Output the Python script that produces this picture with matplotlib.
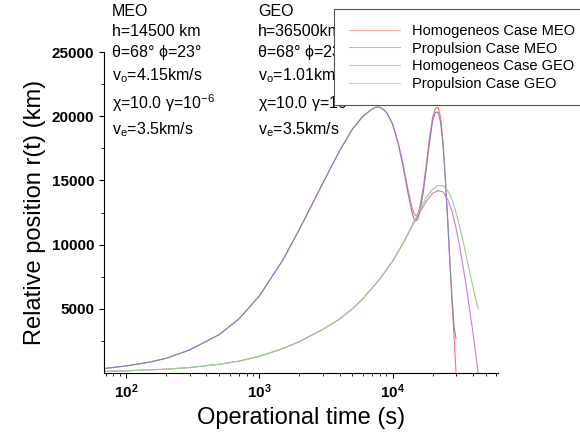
import matplotlib
matplotlib.use("Agg")
import matplotlib.pyplot as plt
from matplotlib.ticker import LogLocator, FixedLocator, NullFormatter

plt.rcParams['font.family'] = ['Liberation Sans', 'DejaVu Sans']
plt.rcParams['mathtext.default'] = 'regular'
plt.rcParams['mathtext.fontset'] = 'custom'
plt.rcParams['mathtext.rm'] = 'Liberation Sans'

t_meo = [68, 100, 150, 200, 300, 500, 700, 1000, 1500, 2000, 3000, 4000, 5000, 6000, 7000, 7500, 8000, 8500, 9000,
         10000, 11000, 12000, 13000, 14000, 14500, 15000, 15500, 16000, 17000, 18000, 19000, 20000, 21000, 22000,
         23000, 24000, 25000, 26000, 27000, 28000, 29000, 30000]
r_hom_meo = [350, 550, 850, 1150, 1800, 3000, 4200, 6000, 8800, 11200, 14800, 17300, 19000, 20000, 20550, 20700, 20700, 20550, 20300,
             19400, 18000, 16300, 14400, 12900, 12400, 12250, 12400, 12900, 14400, 16400, 18400, 19900, 20600, 20700,
             19900, 17900, 15000, 11800, 8500, 5500, 2800, 0]
r_pro_meo = [350, 550, 850, 1150, 1800, 3000, 4200, 6000, 8800, 11200, 14800, 17300, 19000, 20000, 20550, 20700, 20700, 20550, 20300,
             19400, 17900, 16100, 14100, 12500, 12000, 11850, 12000, 12500, 14000, 16000, 18000, 19600, 20300, 20300,
             19500, 17600, 14900, 11800, 8600, 5800, 3600, 2700]
t_geo = [68, 100, 200, 300, 500, 700, 1000, 1500, 2000, 3000, 4000, 5000, 6000, 8000, 10000, 12000, 14000,
         16000, 18000, 20000, 22000, 24000, 26000, 28000, 30000, 32000, 34000, 36000, 38000, 40000, 42000, 44000]
r_hom_geo = [120, 170, 300, 430, 680, 920, 1300, 1900, 2450, 3400, 4200, 5000, 5800, 7300, 8700, 10100, 11400,
             12500, 13400, 14000, 14200, 14100, 13500, 12600, 11300, 9800, 8200, 6600, 4900, 3300, 1600, 0]
r_pro_geo = [120, 170, 300, 430, 680, 920, 1300, 1900, 2450, 3400, 4200, 5000, 5800, 7300, 8700, 10100, 11500,
             12700, 13700, 14300, 14600, 14600, 14200, 13500, 12500, 11400, 10200, 9000, 7900, 6800, 5800, 5000]

fig = plt.figure(figsize=(5.8, 4.47), dpi=100)
ax = fig.add_axes([104/580, 1-373/447, (498-104)/580, (373-52)/447])
ax.plot(t_meo, r_hom_meo, color='#ff6f6f', lw=0.8, label='Homogeneos Case MEO')
ax.plot(t_meo, r_pro_meo, color='#7b84d6', lw=0.8, label='Propulsion Case MEO')
ax.plot(t_geo, r_hom_geo, color='#d974d6', lw=0.8, label='Homogeneos Case GEO')
ax.plot(t_geo, r_pro_geo, color='#8ed67e', lw=0.8, label='Propulsion Case GEO')
ax.set_xscale('log')
ax.set_xlim(68, 62000)
ax.set_ylim(0, 25000)
ax.set_yticks([5000, 10000, 15000, 20000, 25000])
ax.yaxis.set_minor_locator(FixedLocator([2500, 7500, 12500, 17500, 22500]))
ax.xaxis.set_minor_locator(LogLocator(subs=range(2, 10)))
ax.xaxis.set_minor_formatter(NullFormatter())
for s in ['top', 'right']:
    ax.spines[s].set_visible(False)
ax.tick_params(labelsize=11, width=0.8)
for lab in ax.get_xticklabels() + ax.get_yticklabels():
    lab.set_fontweight('bold')
ax.set_xlabel('Operational time (s)', fontsize=17)
ax.set_ylabel('Relative position r(t) (km)', fontsize=17)
leg = fig.legend(loc='upper left', bbox_to_anchor=(327/580, 1-2/447), fontsize=10.5,
                 frameon=True, fancybox=False, edgecolor='#555555', handlelength=3.5,
                 borderpad=1.0, labelspacing=0.25, framealpha=1)
leg.get_frame().set_linewidth(0.8)
for ln in leg.get_lines():
    ln.set_alpha(0.6)

meo = ("MEO\nh=14500 km\nθ=68° ϕ=23°\nv$_o$=4.15km/s\n"
       "χ=10.0 γ=10$^{-6}$\nv$_e$=3.5km/s")
geo = ("GEO\nh=36500km\nθ=68° ϕ=23°\nv$_o$=1.01km/s\n"
       "χ=10.0 γ=10$^{-6}$\nv$_e$=3.5km/s")
fig.text(112/580, 1-4/447, meo, fontsize=11.5, va='top', ha='left', linespacing=1.45)
fig.text(258/580, 1-4/447, geo, fontsize=11.5, va='top', ha='left', linespacing=1.45)
fig.savefig('out.png', dpi=100)
